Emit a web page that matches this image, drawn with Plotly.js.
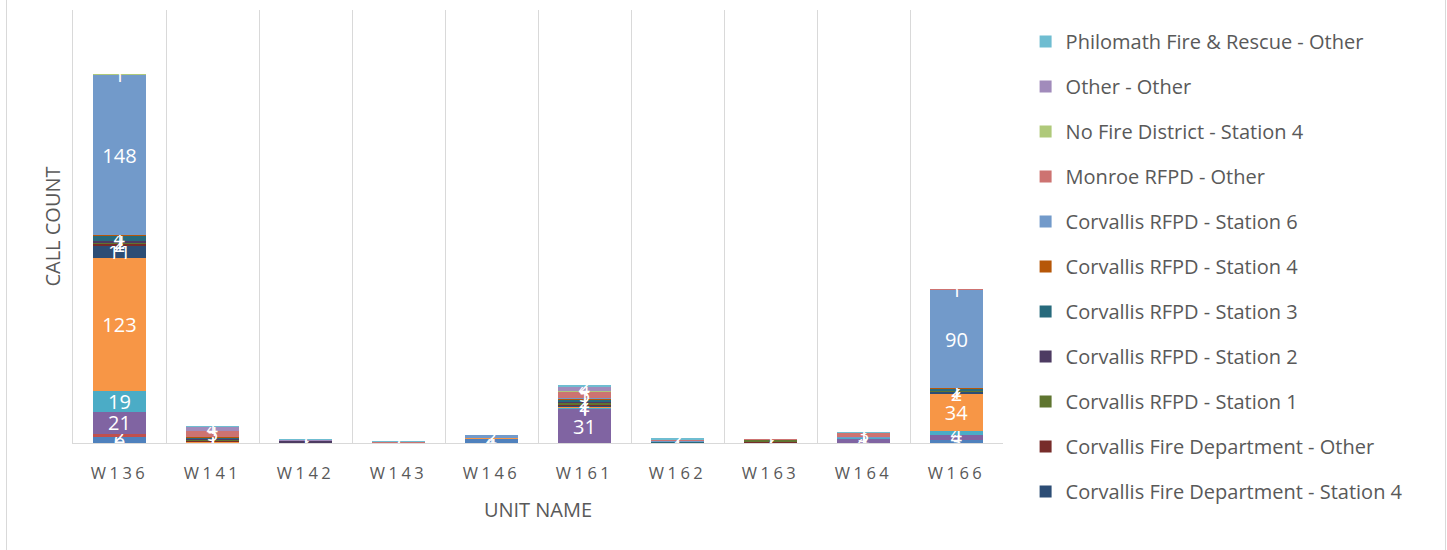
<!DOCTYPE html>
<html>
<head>
<meta charset="utf-8">
<script src="https://cdn.plot.ly/plotly-3.0.1.min.js"></script>
<style>
  html, body { margin: 0; padding: 0; background: #fff; }
  #wrap { position: relative; width: 1447px; height: 550px; }
  #chart { width: 1447px; height: 550px; }
  #frame { position: absolute; left: 6px; top: -1px; width: 1438px; height: 552px;
           border-left: 1px solid #d9d9d9; border-right: 1px solid #d9d9d9; pointer-events: none; }
  .xtick text { letter-spacing: 3.5px; }
</style>
</head>
<body>
<div id="wrap"><div id="chart"></div><div id="frame"></div></div>
<script>
// Categories
const units = ['W136','W141','W142','W143','W146','W161','W162','W163','W164','W166'];

// Series names (bottom of stack first). The first six are not shown in the legend.
const seriesNames = [
  'Albany Fire Department - Other',
  'Corvallis Fire Department - Station 1',
  'Corvallis Fire Department - Station 2',
  'Corvallis Fire Department - Station 3',
  'Corvallis Fire Department - Station 5',
  'Corvallis Fire Department - Station 6',
  'Corvallis Fire Department - Station 4',
  'Corvallis Fire Department - Other',
  'Corvallis RFPD - Station 1',
  'Corvallis RFPD - Station 2',
  'Corvallis RFPD - Station 3',
  'Corvallis RFPD - Station 4',
  'Corvallis RFPD - Station 6',
  'Monroe RFPD - Other',
  'No Fire District - Station 4',
  'Other - Other',
  'Philomath Fire & Rescue - Other'
];

// Values per series, in the order of units
const s01 = [6, null, null, null, 4, null, null, null, null, 3];
const s02 = [2, null, null, null, null, null, null, null, null, null];
const s03 = [null, null, null, null, null, null, null, null, null, null];
const s04 = [21, null, null, null, null, 31, null, null, 4, 4];
const s05 = [19, null, null, null, null, 1, null, null, 1, 4];
const s06 = [123, 1, null, null, 1, 1, null, null, null, 34];
const s07 = [11, null, null, null, null, 1, null, null, null, 2];
const s08 = [2, 1, null, null, null, 1, null, 1, null, null];
const s09 = [1, 1, null, null, null, 2, null, 2, null, 1];
const s10 = [2, 1, 2, null, null, 1, null, null, null, null];
const s11 = [4, 1, null, null, null, 2, 1, null, null, 2];
const s12 = [1, 1, null, null, null, 1, null, null, null, 1];
const s13 = [148, null, null, null, 2, 1, 1, null, 1, 90];
const s14 = [null, 5, null, 1, null, 5, 1, 1, 3, 1];
const s15 = [1, null, null, null, null, 1, null, null, null, null];
const s16 = [null, 4, 1, null, null, 4, null, null, null, null];
const s17 = [null, 1, 1, 1, null, 2, 2, null, 1, null];

const seriesValues = [s01,s02,s03,s04,s05,s06,s07,s08,s09,s10,s11,s12,s13,s14,s15,s16,s17];

const colors = ['#4F81BD','#C0504D','#9BBB59','#8064A2','#4BACC6','#F79646',
                '#2C4D75','#772C2A','#5F7530','#4D3B62','#276A7C','#B65708',
                '#729ACA','#CD7371','#AFC97A','#A18BBB','#6FBDD1'];

const FONT = 'Open Sans, Noto Sans, sans-serif';

const traces = seriesValues.map((vals, i) => ({
  type: 'bar',
  name: seriesNames[i],
  x: units,
  y: vals,
  marker: { color: colors[i], line: { width: 0 } },
  text: vals.map(v => (v === null ? '' : String(v))),
  texttemplate: '%{text}',
  textposition: 'inside',
  insidetextanchor: 'middle',
  textangle: 0,
  textfont: { color: '#ffffff', size: 20, family: FONT },
  showlegend: i >= 6,
  legendgroup: 'g' + i,
  legendrank: 100 - i,
  hoverinfo: 'x+y+name'
}));

const layout = {
  width: 1447, height: 550,
  margin: { l: 73, r: 444, t: 10, b: 107, autoexpand: false },
  paper_bgcolor: '#ffffff', plot_bgcolor: '#ffffff',
  barmode: 'stack',
  bargap: 0.44,
  uniformtext: { mode: 'show', minsize: 20 },
  font: { family: FONT, color: '#595959' },
  xaxis: {
    type: 'category',
    automargin: false,
    tickson: 'boundaries',
    ticks: '',
    ticklabelstandoff: 15,
    showgrid: true, gridcolor: '#d9d9d9', gridwidth: 1,
    showline: true, linecolor: '#d9d9d9', linewidth: 1,
    tickfont: { size: 16.5, color: '#595959', family: FONT },
    title: { text: 'UNIT NAME', font: { size: 20, color: '#595959', family: FONT }, standoff: 20 },
    range: [-0.5, 9.5]
  },
  yaxis: {
    automargin: false,
    range: [0, 400],
    showticklabels: false,
    showgrid: false,
    zeroline: false,
    ticks: '',
    showline: true, linecolor: '#d9d9d9', linewidth: 1,
    title: { text: 'CALL COUNT', font: { size: 20, color: '#595959', family: FONT }, standoff: 6 }
  },
  legend: {
    x: 1.0243, xanchor: 'left', y: 0.972, yanchor: 'top',
    traceorder: 'grouped',
    tracegroupgap: 16,
    maxheight: 540,
    font: { size: 20, color: '#595959', family: FONT },
    itemwidth: 30,
    bgcolor: 'rgba(0,0,0,0)'
  }
};

Plotly.newPlot('chart', traces, layout, { displayModeBar: false, staticPlot: true });
</script>
</body>
</html>
